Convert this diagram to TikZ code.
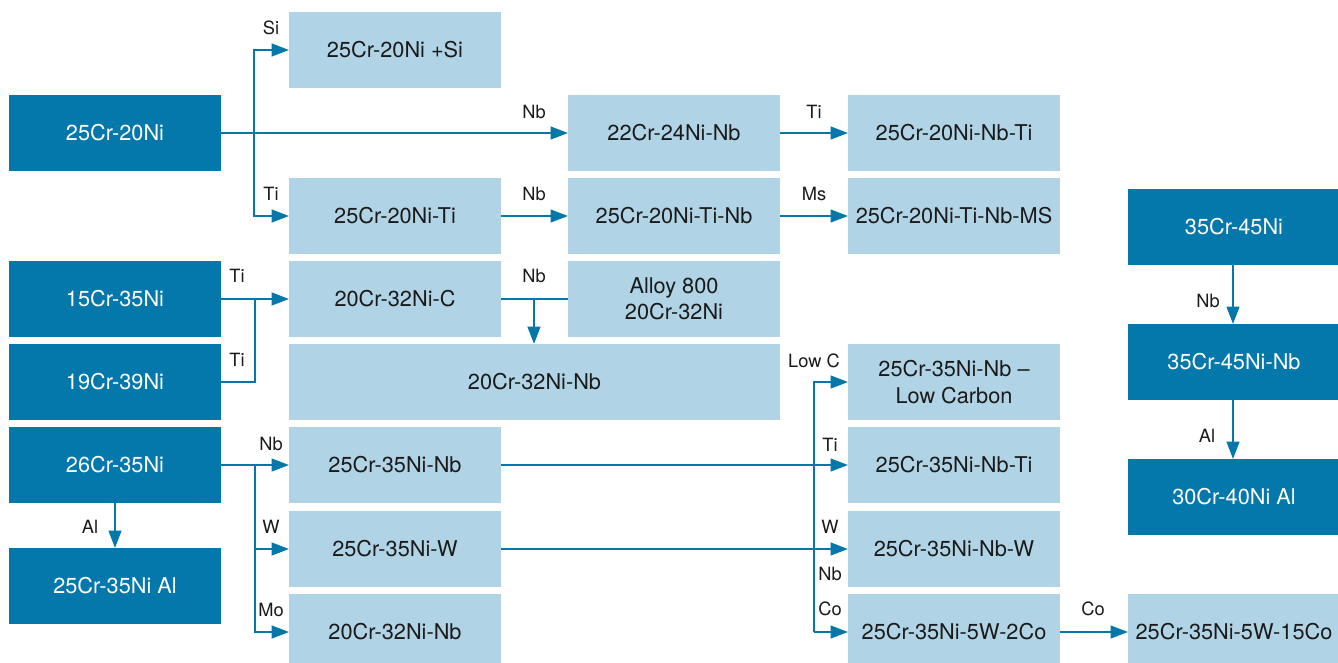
\documentclass[tikz,border=0pt]{standalone}
\usepackage{fontspec}
\setmainfont{TeX Gyre Heros}
\usetikzlibrary{arrows.meta}
\definecolor{dblue}{HTML}{0477AB}
\definecolor{lblue}{HTML}{B0D4E6}
\definecolor{txt}{HTML}{1A1A1A}
\tikzset{
  boxbase/.style={anchor=north west, minimum width=159pt, minimum height=57pt, inner sep=0pt, outer sep=0pt, align=center, font=\fontsize{16.3}{19.8}\selectfont},
  dbox/.style={boxbase, fill=dblue, text=white},
  lbox/.style={boxbase, fill=lblue, text=txt},
  lab/.style={font=\fontsize{13.7}{16}\selectfont, text=txt, inner sep=0pt},
  conn/.style={draw=dblue, line width=1.6pt, -{Triangle[length=13pt,width=9.5pt]}},
  plain/.style={draw=dblue, line width=1.6pt},
}
\begin{document}
\begin{tikzpicture}[x=0.75pt,y=-0.75pt]
\clip (0,0) rectangle (1338,662);
\fill[white] (0,0) rectangle (1338,662);
% column 1 (dark)
\node[dbox] (a2520) at (9,95) {25Cr-20Ni};
\node[dbox] (a1535) at (9,261) {15Cr-35Ni};
\node[dbox] (a1939) at (9,344) {19Cr-39Ni};
\node[dbox] (a2635) at (9,427) {26Cr-35Ni};
\node[dbox] (a2535al) at (9,548) {25Cr-35Ni Al};
% column 2
\node[lbox] (b2520si) at (289,12) {25Cr-20Ni +Si};
\node[lbox] (b2520ti) at (289,178) {25Cr-20Ni-Ti};
\node[lbox] (b2032c) at (289,261) {20Cr-32Ni-C};
\node[lbox, minimum width=368.25pt] (b2032nb) at (289,344) {20Cr-32Ni-Nb};
\node[lbox] (b2535nb) at (289,427) {25Cr-35Ni-Nb};
\node[lbox] (b2535w) at (289,511) {25Cr-35Ni-W};
\node[lbox] (b2032nbm) at (289,594) {20Cr-32Ni-Nb};
% column 3
\node[lbox] (c2224) at (568,95) {22Cr-24Ni-Nb};
\node[lbox] (c2520tinb) at (568,178) {25Cr-20Ni-Ti-Nb};
\node[lbox] (c800) at (568,261) {Alloy 800\\20Cr-32Ni};
% column 4
\node[lbox] (d2520nbti) at (848,95) {25Cr-20Ni-Nb-Ti};
\node[lbox] (d2520ms) at (848,178) {25Cr-20Ni-Ti-Nb-MS};
\node[lbox] (d2535lc) at (848,344) {25Cr-35Ni-Nb --\\Low Carbon};
\node[lbox] (d2535nbti) at (848,427) {25Cr-35Ni-Nb-Ti};
\node[lbox] (d2535nbw) at (848,511) {25Cr-35Ni-Nb-W};
\node[lbox] (d2535co2) at (848,594) {25Cr-35Ni-5W-2Co};
% column 5
\node[dbox] (e3545) at (1128,189) {35Cr-45Ni};
\node[dbox] (e3545nb) at (1128,324) {35Cr-45Ni-Nb};
\node[dbox] (e3040al) at (1128,459) {30Cr-40Ni Al};
\node[lbox] (e2535co15) at (1128,594) {25Cr-35Ni-5W-15Co};
% junction coordinates
\coordinate (j1) at (254,133);
\coordinate (j2) at (255,299);
\coordinate (j3) at (534,299);
\coordinate (j4) at (255,465);
\coordinate (j5) at (814,632);
% connectors
\draw[conn] (a2520.east) -- (c2224.west);
\draw[conn] (j1) |- (b2520si.west);
\draw[conn] (j1) |- (b2520ti.west);
\draw[conn] (c2224.east) -- (d2520nbti.west);
\draw[conn] (b2520ti.east) -- (c2520tinb.west);
\draw[conn] (c2520tinb.east) -- (d2520ms.west);
\draw[conn] (a1535.east) -- (b2032c.west);
\draw[plain] (a1939.east) -| (j2);
\draw[plain] (b2032c.east) -- (c800.west);
\draw[conn] (j3) -- (j3 |- b2032nb.north);
\draw[plain] (a2635.east) -- (j4);
\draw[conn] (j4) -- (b2535nb.west);
\draw[conn] (j4) |- (b2535w.west);
\draw[conn] (j4) |- (b2032nbm.west);
\draw[conn] (a2635.south -| 115,0) -- (a2535al.north -| 115,0);
\draw[conn] (b2535nb.east) -- (d2535nbti.west);
\draw[conn] (b2535w.east) -- (d2535nbw.west);
\draw[conn] (j5) |- (d2535lc.west);
\draw[conn] (j5) -- (d2535co2.west);
\draw[conn] (d2535co2.east) -- (e2535co15.west);
\draw[conn] (e3545.south -| 1233,0) -- (e3545nb.north -| 1233,0);
\draw[conn] (e3545nb.south -| 1233,0) -- (e3040al.north -| 1233,0);
% labels
\node[lab] (l1) at (271,28) {Si};
\node[lab] (l2) at (534,112) {Nb};
\node[lab] (l3) at (271,194) {Ti};
\node[lab] (l4) at (534,194) {Nb};
\node[lab] (l5) at (814,112) {Ti};
\node[lab] (l6) at (814,194) {Ms};
\node[lab] (l7) at (237,276) {Ti};
\node[lab] (l8) at (237,360) {Ti};
\node[lab] (l9) at (534,276) {Nb};
\node[lab] (l10) at (271,444) {Nb};
\node[lab] (l11) at (271,527) {W};
\node[lab] (l12) at (271,610) {Mo};
\node[lab] (l13) at (90,527) {Al};
\node[lab] (l14) at (814,361) {Low C};
\node[lab] (l15) at (830,445) {Ti};
\node[lab] (l16) at (830,527) {W};
\node[lab] (l17) at (830,574) {Nb};
\node[lab] (l18) at (830,609) {Co};
\node[lab] (l19) at (1093,609) {Co};
\node[lab] (l20) at (1208,301) {Nb};
\node[lab] (l21) at (1207,436) {Al};
\end{tikzpicture}
\end{document}
